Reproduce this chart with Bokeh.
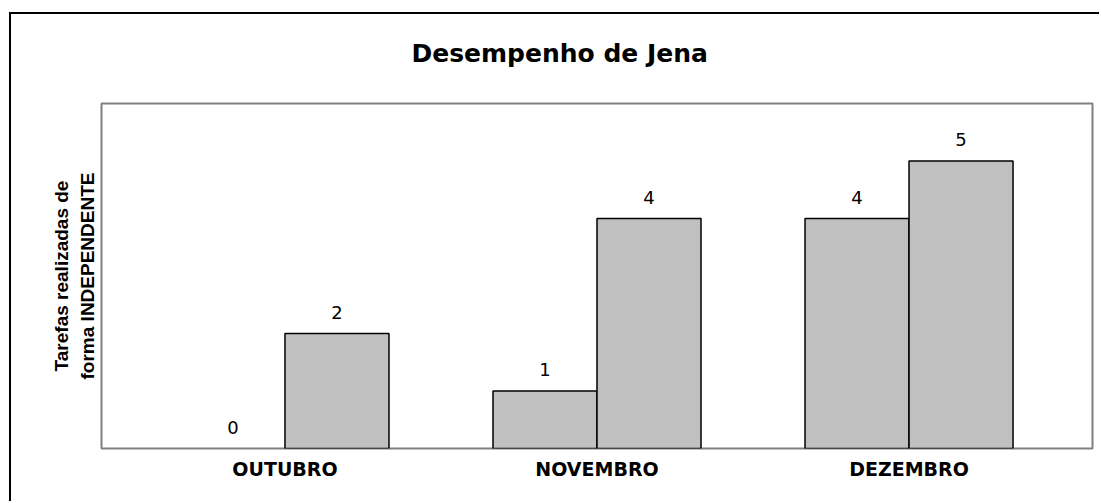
from bokeh.plotting import figure
from bokeh.models import ColumnDataSource, FactorRange, LabelSet, FixedTicker, Title
from bokeh.transform import dodge
from bokeh.core.properties import value
from bokeh.embed import file_html
from bokeh.resources import INLINE

# ---- data ----
months = ["OUTUBRO", "NOVEMBRO", "DEZEMBRO"]
serie_a = [0, 1, 4]
serie_b = [2, 4, 5]
title_text = "Desempenho de Jena"
y_label = "Tarefas realizadas de\nforma INDEPENDENTE"

src = ColumnDataSource(dict(
    month=months,
    a=serie_a,
    b=serie_b,
    a_txt=[str(v) for v in serie_a],
    b_txt=[str(v) for v in serie_b],
    a_line=["black" if v > 0 else None for v in serie_a],
    b_line=["black" if v > 0 else None for v in serie_b],
))

x_range = FactorRange(factors=months, range_padding=0.088, range_padding_units="absolute")

p = figure(x_range=x_range, y_range=(0, 6), width=1090, height=489,
           output_backend="svg", toolbar_location=None,
           min_border_left=90, min_border_right=9, min_border_top=89, min_border_bottom=55,
           background_fill_color="white", border_fill_color="white")
p.title_location = None
p.margin = (12, 0, 0, 9)
p.styles = {"border-left": "2px solid black", "border-top": "2px solid black"}

bar_w = 1 / 3
p.vbar(x=dodge("month", -bar_w / 2, range=p.x_range), top="a", width=bar_w, source=src,
       fill_color="#C0C0C0", line_color="a_line", line_width=1.5)
p.vbar(x=dodge("month", bar_w / 2, range=p.x_range), top="b", width=bar_w, source=src,
       fill_color="#C0C0C0", line_color="b_line", line_width=1.5)

for col, off in (("a", -bar_w / 2), ("b", bar_w / 2)):
    p.add_layout(LabelSet(x=dodge("month", off, range=p.x_range), y=col, text=col + "_txt",
                          source=src, y_offset=15, text_align="center",
                          text_baseline="alphabetic", text_font=value("DejaVu Sans"),
                          text_font_size="18px", text_color="black"))

# title
title = Title(text=title_text, text_font="DejaVu Sans", text_font_style="bold",
              text_font_size="25px", text_color="black", align="left",
              offset=310, standoff=10)
padded = False
for pad in (dict(left=0, right=0, top=0, bottom=31), (0, 0, 0, 31)):
    try:
        title.padding = pad
        padded = True
        break
    except Exception:
        pass
if not padded:
    title.standoff = 60
p.add_layout(title, "above")

# axes
p.xgrid.visible = False
p.ygrid.visible = False
p.outline_line_color = "#808080"
p.outline_line_width = 2

p.xaxis.axis_line_color = None
p.xaxis.major_tick_line_color = None
p.xaxis.minor_tick_line_color = None
p.xaxis.major_label_text_font = "DejaVu Sans"
p.xaxis.major_label_text_font_style = "bold"
p.xaxis.major_label_text_font_size = "19px"
p.xaxis.major_label_text_color = "black"
p.xaxis.major_label_standoff = 3

p.yaxis.ticker = FixedTicker(ticks=[])
p.yaxis.axis_line_color = None
p.yaxis.major_tick_line_color = None
p.yaxis.minor_tick_line_color = None
p.yaxis.major_label_standoff = 0
p.yaxis.axis_label = y_label
p.yaxis.axis_label_text_font = "Liberation Sans"
p.yaxis.axis_label_text_font_style = "bold"
p.yaxis.axis_label_text_font_size = "19px"
p.yaxis.axis_label_text_color = "black"
p.yaxis.axis_label_standoff = 4

open("out.html", "w").write(file_html(p, INLINE))
